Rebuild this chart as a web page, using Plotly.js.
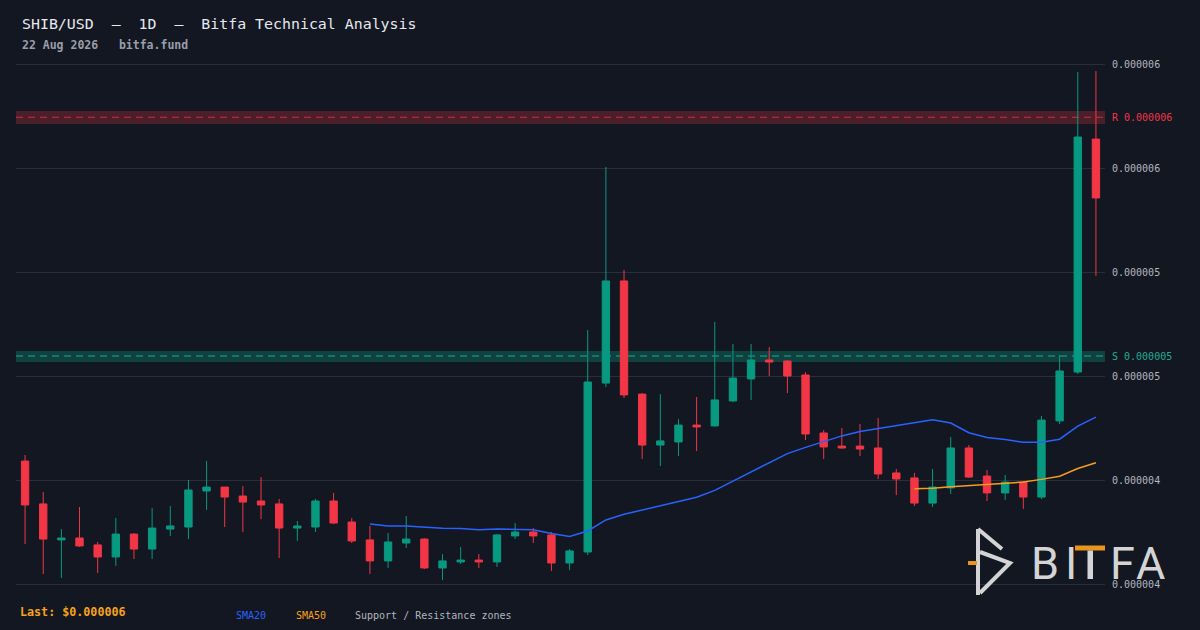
<!DOCTYPE html>
<html>
<head>
<meta charset="utf-8">
<script src="https://cdn.plot.ly/plotly-3.0.1.min.js"></script>
<style>
  html, body { margin: 0; padding: 0; background: #131722; }
  #chart { width: 1200px; height: 630px; }
</style>
</head>
<body>
<div id="chart"></div>
<script>
// Prices are in millionths of a US dollar (1.0 = $0.000001)
const days = [
  '2026-06-24','2026-06-25','2026-06-26','2026-06-27','2026-06-28','2026-06-29','2026-06-30',
  '2026-07-01','2026-07-02','2026-07-03','2026-07-04','2026-07-05','2026-07-06','2026-07-07',
  '2026-07-08','2026-07-09','2026-07-10','2026-07-11','2026-07-12','2026-07-13','2026-07-14',
  '2026-07-15','2026-07-16','2026-07-17','2026-07-18','2026-07-19','2026-07-20','2026-07-21',
  '2026-07-22','2026-07-23','2026-07-24','2026-07-25','2026-07-26','2026-07-27','2026-07-28',
  '2026-07-29','2026-07-30','2026-07-31','2026-08-01','2026-08-02','2026-08-03','2026-08-04',
  '2026-08-05','2026-08-06','2026-08-07','2026-08-08','2026-08-09','2026-08-10','2026-08-11',
  '2026-08-12','2026-08-13','2026-08-14','2026-08-15','2026-08-16','2026-08-17','2026-08-18',
  '2026-08-19','2026-08-20','2026-08-21','2026-08-22'
];

const openP = [4.091,3.885,3.712,3.721,3.688,3.630,3.740,3.668,3.764,3.774,
               3.947,3.966,3.923,3.899,3.885,3.769,3.774,3.899,3.798,3.712,
               3.611,3.697,3.716,3.577,3.606,3.615,3.606,3.731,3.750,3.736,
               3.601,3.654,4.466,4.957,4.413,4.168,4.183,4.264,4.260,4.380,
               4.486,4.577,4.572,4.505,4.226,4.163,4.163,4.154,4.034,4.010,
               3.889,3.962,4.154,4.019,3.938,3.990,3.918,4.284,4.519,5.639];
const highP = [4.120,3.942,3.764,3.870,3.702,3.817,3.745,3.865,3.875,4.000,
               4.091,3.966,3.971,4.014,3.909,3.803,3.909,3.938,3.817,3.779,
               3.745,3.827,3.721,3.644,3.678,3.644,3.740,3.793,3.769,3.750,
               3.668,4.721,5.505,5.010,4.418,4.413,4.293,4.399,4.760,4.654,
               4.654,4.639,4.577,4.519,4.240,4.250,4.269,4.298,4.053,4.034,
               4.053,4.207,4.168,4.048,4.024,3.995,4.308,4.601,5.962,5.966];
const lowP  = [3.692,3.548,3.529,3.678,3.553,3.587,3.620,3.620,3.731,3.716,
               3.856,3.774,3.750,3.812,3.625,3.707,3.750,3.788,3.697,3.548,
               3.577,3.673,3.572,3.519,3.596,3.577,3.582,3.716,3.697,3.563,
               3.567,3.639,4.447,4.394,4.101,4.067,4.115,4.139,4.255,4.375,
               4.385,4.500,4.418,4.192,4.101,4.149,4.115,4.005,3.928,3.875,
               3.870,3.933,4.010,3.899,3.904,3.861,3.909,4.269,4.510,4.981];
const closeP= [3.880,3.716,3.721,3.683,3.630,3.740,3.668,3.769,3.779,3.952,
               3.966,3.918,3.894,3.880,3.769,3.779,3.899,3.793,3.707,3.611,
               3.702,3.716,3.577,3.611,3.615,3.606,3.736,3.750,3.731,3.601,
               3.659,4.471,4.957,4.409,4.168,4.188,4.264,4.255,4.385,4.490,
               4.577,4.567,4.500,4.221,4.159,4.154,4.149,4.029,4.005,3.889,
               3.966,4.154,4.014,3.938,3.990,3.918,4.288,4.524,5.649,5.356];

// SMA20 from day index 19, SMA50 from day index 49
const sma20 = [3.788,3.779,3.779,3.772,3.768,3.767,3.761,3.764,3.763,3.761,
               3.743,3.728,3.755,3.808,3.835,3.855,3.875,3.894,3.917,3.950,
               3.994,4.038,4.081,4.127,4.157,4.185,4.212,4.233,4.247,4.260,
               4.275,4.290,4.274,4.227,4.204,4.195,4.181,4.182,4.196,4.259,4.302];
const sma50 = [3.958,3.960,3.968,3.974,3.979,3.987,3.990,4.003,4.018,4.055,4.083];

const resistanceZone = [5.712, 5.774];
const resistanceLevel = 5.744;
const supportZone = [4.567, 4.620];
const supportLevel = 4.596;

const tickVals = [3.5, 4.0, 4.5, 5.0, 5.5, 6.0];
const tickText = ['0.000004','0.000004','0.000005','0.000005','0.000006','0.000006'];

const titleText = 'SHIB/USD\u00a0\u00a0–\u00a0\u00a01D\u00a0\u00a0–\u00a0\u00a0Bitfa Technical Analysis';
const subText = '22 Aug 2026\u00a0\u00a0\u00a0bitfa.fund';
const lastText = 'Last: $0.000006';
const resLabel = 'R 0.000006';
const supLabel = 'S 0.000005';
const brandLetters = ['B', 'I', 'F', 'A'];

// ---- layout geometry (pixels) ----
const W = 1200, H = 630;
const PL = 16, PR = 1105, PT = 62, PB = 586;
const X = px => (px - PL) / (PR - PL);
const Y = py => (PB - py) / (PB - PT);

const MONO = 'DejaVu Sans Mono, monospace';
const BG = '#131722';
const UP = '#089981', DOWN = '#f23645';

const traces = [
  {
    type: 'candlestick',
    x: days, open: openP, high: highP, low: lowP, close: closeP,
    increasing: { line: { color: UP, width: 1 }, fillcolor: UP },
    decreasing: { line: { color: DOWN, width: 1 }, fillcolor: DOWN },
    whiskerwidth: 0,
    hoverinfo: 'skip',
    showlegend: false
  },
  {
    type: 'scatter', mode: 'lines',
    x: days.slice(19), y: sma20,
    line: { color: '#2962ff', width: 1.5 },
    hoverinfo: 'skip', showlegend: false
  },
  {
    type: 'scatter', mode: 'lines',
    x: days.slice(49), y: sma50,
    line: { color: '#f59e1f', width: 1.5 },
    hoverinfo: 'skip', showlegend: false
  }
];

const ann = (px, py, text, opts) => Object.assign({
  xref: 'paper', yref: 'paper', x: X(px), y: Y(py), text: text,
  showarrow: false, xanchor: 'left', yanchor: 'middle'
}, opts);

const LOGO = '#d4d4d6';
const ORANGE = '#e8951f';
const brandX = [1044.5, 1070.5, 1122.5, 1150.5];

const annotations = [
  ann(20, 24, titleText, { font: { family: MONO, size: 14.9, color: '#e6e8ee' } }),
  ann(20, 45, '<b>' + subText + '</b>', { font: { family: MONO, size: 11.5, color: '#9a9ea9' } }),
  ann(18, 612, '<b>' + lastText + '</b>', { font: { family: MONO, size: 11.7, color: '#f7a21b' } }),
  ann(234, 615, 'SMA20', { font: { family: MONO, size: 10, color: '#2962ff' } }),
  ann(294, 615, 'SMA50', { font: { family: MONO, size: 10, color: '#f7a21b' } }),
  ann(353, 615, 'Support / Resistance zones', { font: { family: MONO, size: 10, color: '#b2b5be' } }),
  { xref: 'paper', yref: 'y', x: 1, y: resistanceLevel, xshift: 5, text: resLabel, showarrow: false,
    xanchor: 'left', yanchor: 'middle', font: { family: MONO, size: 10, color: '#f23645' } },
  { xref: 'paper', yref: 'y', x: 1, y: supportLevel, xshift: 5, text: supLabel, showarrow: false,
    xanchor: 'left', yanchor: 'middle', font: { family: MONO, size: 10, color: '#22ab94' } }
].concat(brandLetters.map((L, i) =>
  ann(brandX[i], 563.5, L, { xanchor: 'center', font: { family: 'Roboto', size: 45, color: LOGO } })
));

const seg = (pts) => 'M' + pts.map(p => X(p[0]).toFixed(5) + ',' + Y(p[1]).toFixed(5)).join(' L');

const shapes = [
  { type: 'rect', xref: 'paper', yref: 'y', x0: 0, x1: 1, y0: resistanceZone[0], y1: resistanceZone[1],
    fillcolor: 'rgba(242,54,69,0.25)', line: { width: 0 }, layer: 'below' },
  { type: 'line', xref: 'paper', yref: 'y', x0: 0, x1: 1, y0: resistanceLevel, y1: resistanceLevel,
    line: { color: 'rgba(242,54,69,0.75)', width: 1, dash: '7px,5px' }, layer: 'below' },
  { type: 'rect', xref: 'paper', yref: 'y', x0: 0, x1: 1, y0: supportZone[0], y1: supportZone[1],
    fillcolor: 'rgba(8,153,129,0.33)', line: { width: 0 }, layer: 'below' },
  { type: 'line', xref: 'paper', yref: 'y', x0: 0, x1: 1, y0: supportLevel, y1: supportLevel,
    line: { color: 'rgba(34,190,160,0.85)', width: 1, dash: '7px,5px' }, layer: 'below' },
  // logo glyph
  { type: 'path', xref: 'paper', yref: 'paper', path: seg([[978,529],[978,595]]), line: { color: LOGO, width: 4 } },
  { type: 'path', xref: 'paper', yref: 'paper', path: seg([[978,529],[1002,549]]), line: { color: LOGO, width: 4 } },
  { type: 'path', xref: 'paper', yref: 'paper', path: seg([[980,552],[1010,563],[980,593]]), line: { color: LOGO, width: 4 } },
  { type: 'path', xref: 'paper', yref: 'paper', path: seg([[968,563],[977,563]]), line: { color: ORANGE, width: 4 } },
  // letter T of watermark
  { type: 'rect', xref: 'paper', yref: 'paper', x0: X(1075), x1: X(1105), y0: Y(550.5), y1: Y(545.5),
    fillcolor: ORANGE, line: { width: 0 } },
  { type: 'rect', xref: 'paper', yref: 'paper', x0: X(1087.5), x1: X(1093), y0: Y(579), y1: Y(550.5),
    fillcolor: LOGO, line: { width: 0 } }
];

const layout = {
  width: W, height: H,
  paper_bgcolor: BG, plot_bgcolor: BG,
  margin: { l: PL, r: W - PR, t: PT, b: H - PB, pad: 0 },
  showlegend: false,
  boxgap: 0.42,
  xaxis: {
    type: 'category', range: [-0.5, 59.5],
    showgrid: false, zeroline: false, showticklabels: false, ticks: '',
    showline: false, rangeslider: { visible: false }, fixedrange: true
  },
  yaxis: {
    side: 'right',
    range: [3.5 - 2/208, 6.0 + 2/208],
    tickvals: tickVals, ticktext: tickText,
    showgrid: true, gridcolor: '#2a2e39', gridwidth: 1,
    zeroline: false, showline: false, ticks: '',
    ticklabelstandoff: 6,
    tickfont: { family: MONO, size: 10, color: '#b2b5be' },
    fixedrange: true
  },
  annotations: annotations,
  shapes: shapes,
  font: { family: MONO, color: '#b2b5be' }
};

Plotly.newPlot('chart', traces, layout, { displayModeBar: false, staticPlot: true });
</script>
</body>
</html>
